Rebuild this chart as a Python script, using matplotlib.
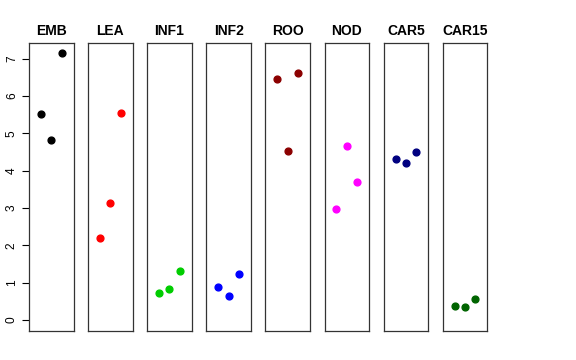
import matplotlib
matplotlib.use("Agg")
from matplotlib import pyplot as plt

plt.rcParams['font.family'] = ['Liberation Sans', 'DejaVu Sans']

tissues = ['EMB', 'LEA', 'INF1', 'INF2', 'ROO', 'NOD', 'CAR5', 'CAR15']
colors = ['black', 'red', '#00CD00', 'blue', '#8B0000', 'magenta', '#000080', '#006400']
reps = [1, 2, 3]
values = [
    [5.51, 4.83, 7.14],
    [2.21, 3.13, 5.54],
    [0.73, 0.84, 1.31],
    [0.88, 0.64, 1.24],
    [6.46, 4.53, 6.62],
    [2.98, 4.66, 3.69],
    [4.32, 4.21, 4.50],
    [0.37, 0.34, 0.56],
]

W, H = 576, 360
fig = plt.figure(figsize=(W / 100, H / 100), dpi=100)

left0, step, width = 29, 59.1, 44.5
top, bottom = 43, 331

for i, (name, col, vals) in enumerate(zip(tissues, colors, values)):
    ax = fig.add_axes([(left0 + step * i) / W, 1 - bottom / H,
                       width / W, (bottom - top) / H])
    ax.scatter(reps, vals, s=24, color=col, zorder=3)
    ax.set_xlim(-0.16, 4.16)
    ax.set_ylim(-0.29, 7.42)
    ax.set_xticks([])
    for sp in ax.spines.values():
        sp.set_linewidth(0.9)
        sp.set_color('#333333')
    ax.set_title(name, fontsize=10, fontweight='bold', pad=6)
    if i == 0:
        ax.set_yticks(range(8))
        ax.tick_params(axis='y', length=5, width=0.8, labelsize=8.6, pad=3)
        for lab in ax.get_yticklabels():
            lab.set_rotation(90)
            lab.set_va('center')
    else:
        ax.set_yticks([])

fig.savefig('out.png', dpi=100)
